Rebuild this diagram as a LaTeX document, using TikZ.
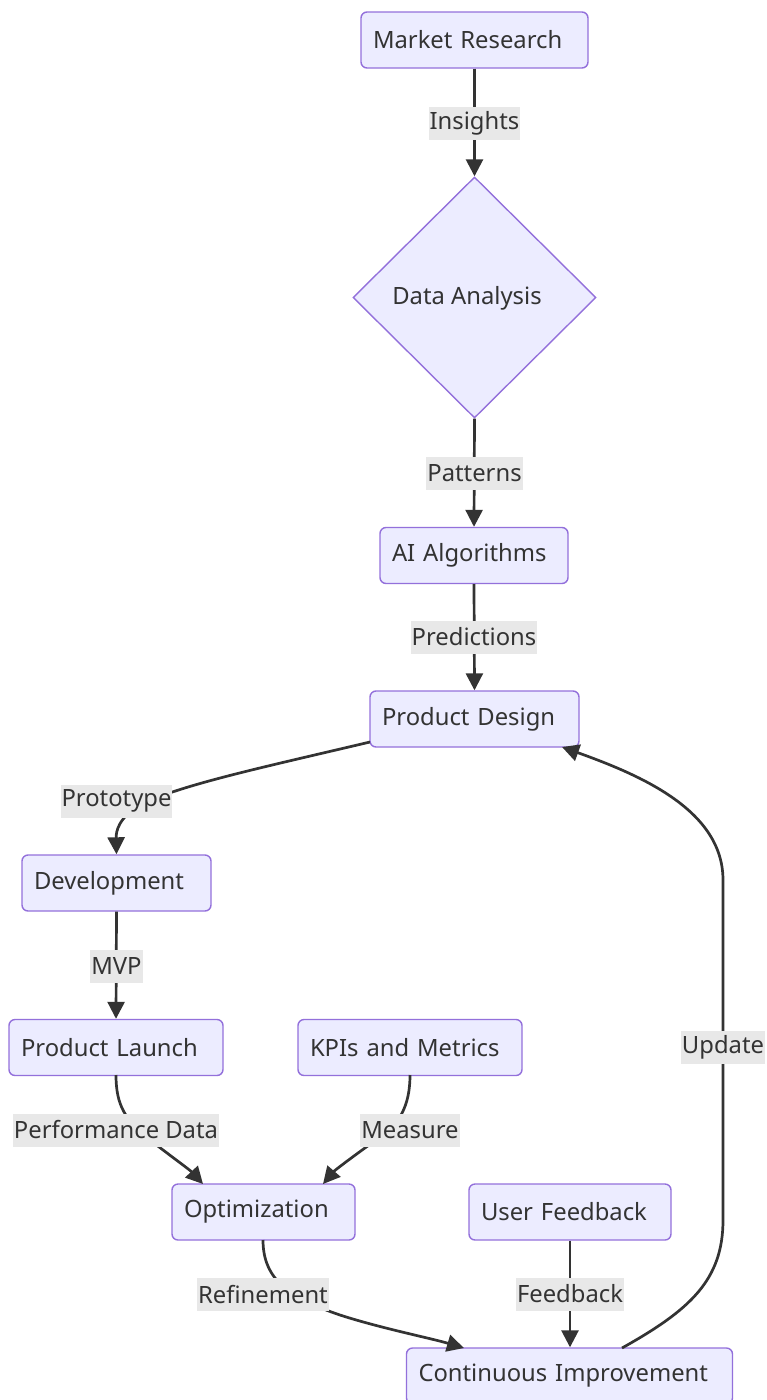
\documentclass[tikz,border=0pt]{standalone}
\usepackage{fontspec}
\setmainfont{Noto Sans}
\usetikzlibrary{shapes.geometric,arrows.meta}
\definecolor{nodefill}{HTML}{ECECFF}
\definecolor{nodeline}{HTML}{9370DB}
\definecolor{ink}{HTML}{333333}
\definecolor{lblgray}{HTML}{E8E8E8}
\begin{document}
\begin{tikzpicture}[x=1pt,y=-1pt,
  font=\fontsize{23.8}{28}\selectfont,
  box/.style={draw=nodeline,fill=nodefill,line width=1.4pt,rounded corners=6pt,
    minimum height=56pt,text width=#1,align=left,inner xsep=12pt,inner ysep=0pt,text=ink},
  lbl/.style={fill=lblgray,inner xsep=1pt,inner ysep=0pt,minimum height=33pt,text=ink},
  edge/.style={draw=ink,line width=2.7pt,-{Triangle[length=17pt,width=17pt]}},
]
\useasboundingbox (0,0) rectangle (767,1400);
% nodes
\node[box=203pt] (mr) at (474.5,40) {Market Research};
\node[draw=nodeline,fill=nodefill,line width=1.4pt,diamond,inner sep=0pt,
      minimum width=243pt,minimum height=241pt] (da) at (474.5,297.5) {};
\node[text=ink] (datxt) at (467,298.5) {Data Analysis};
\node[box=164pt] (ai) at (474,555.5) {AI Algorithms};
\node[box=185pt] (pd) at (474.5,719) {Product Design};
\node[box=165pt] (dev) at (116.5,883) {Development};
\node[box=190pt] (pl) at (116,1047.5) {Product Launch};
\node[box=200pt] (kpi) at (410,1047.5) {KPIs and Metrics};
\node[box=159pt] (opt) at (263.5,1212) {Optimization};
\node[box=178pt] (uf) at (570,1212) {User Feedback};
\node[box=302pt] (ci) at (569.5,1376) {Continuous Improvement};
% helper coordinates
\coordinate (pdsw) at (370,742);
\coordinate (pdse) at (562,747);
\coordinate (plb) at (116,1075);
\coordinate (kpib) at (410,1075);
\coordinate (optb) at (263,1240);
\coordinate (optt1) at (203,1184);
\coordinate (optt2) at (323,1184);
\coordinate (cit1) at (464,1348);
\coordinate (cit2) at (622,1348);
% edges
\draw[edge] (mr.south) -- (da.north);
\draw[edge] (da.south) -- (ai.north);
\draw[edge] (ai.south) -- (pd.north);
\draw[edge] (pdsw) .. controls (260,768) and (180,785) .. (140,805)
  .. controls (118,818) and (116,832) .. (dev.north);
\draw[edge] (dev.south) -- (pl.north);
\draw[edge] (plb) .. controls (116,1105) and (125,1120) .. (150,1140)
  .. controls (172,1157) and (190,1170) .. (optt1);
\draw[edge] (kpib) .. controls (410,1105) and (400,1125) .. (376,1140)
  .. controls (355,1155) and (335,1170) .. (optt2);
\draw[edge] (optb) .. controls (263,1280) and (290,1298) .. (340,1315)
  .. controls (380,1328) and (430,1338) .. (cit1);
\draw[edge] (uf.south) -- (ci.north -| uf.south);
\draw[edge] (cit2) .. controls (690,1310) and (723,1280) .. (723,1220)
  -- (723,880) .. controls (723,810) and (640,775) .. (pdse);
% edge labels
\node[lbl] (l1) at (474.5,123) {Insights};
\node[lbl] (l2) at (474.5,473) {Patterns};
\node[lbl] (l3) at (474,637) {Predictions};
\node[lbl] (l4) at (116.5,801) {Prototype};
\node[lbl] (l5) at (116.5,966) {MVP};
\node[lbl] (l6) at (116,1130) {Performance Data};
\node[lbl] (l7) at (410,1130) {Measure};
\node[lbl] (l8) at (263,1294) {Refinement};
\node[lbl] (l9) at (570,1294) {Feedback};
\node[lbl] (l10) at (723,1047) {Update};
\end{tikzpicture}
\end{document}
